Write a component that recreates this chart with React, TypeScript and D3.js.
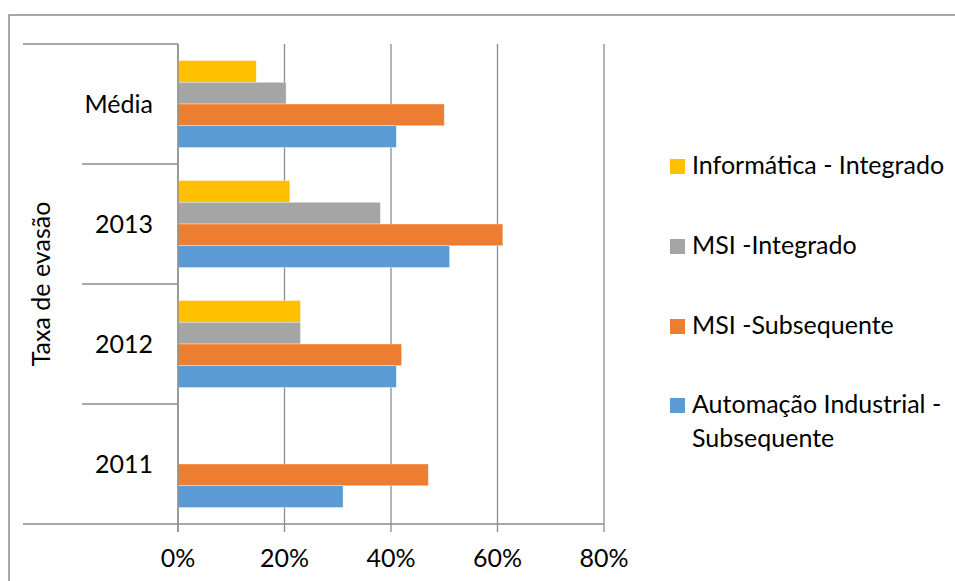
import React from "react";
import * as d3 from "d3";

// Categories listed top to bottom
const categories = ["Média", "2013", "2012", "2011"];

// Series listed in the order bars are stacked inside a group (top to bottom)
const seriesNames = [
  "Informática - Integrado",
  "MSI -Integrado",
  "MSI -Subsequente",
  "Automação Industrial - Subsequente",
];
const seriesColors = ["#FFC000", "#A5A5A5", "#ED7D31", "#5B9BD5"];

// Dropout rates (fractions), per category in the order above
const informaticaIntegrado = [0.147, 0.21, 0.23, 0];
const msiIntegrado = [0.203, 0.38, 0.23, 0];
const msiSubsequente = [0.5, 0.61, 0.42, 0.47];
const automacaoSubsequente = [0.41, 0.51, 0.41, 0.31];

const seriesValues = [
  informaticaIntegrado,
  msiIntegrado,
  msiSubsequente,
  automacaoSubsequente,
];

const xTicks = [0, 0.2, 0.4, 0.6, 0.8];
const axisTitle = "Taxa de evasão";

const W = 955;
const H = 581;
const FONT = "Lato, 'Open Sans', sans-serif";
const FS = 25;
const GRID = "#8c8c8c";

export default function App() {
  const plotLeft = 178;
  const plotRight = 604;
  const plotTop = 44;
  const plotBottom = 524;

  const x = d3.scaleLinear().domain([0, 0.8]).range([plotLeft, plotRight]);
  const y = d3
    .scaleBand<string>()
    .domain(categories)
    .range([plotTop, plotBottom])
    .padding(0);
  const inner = d3
    .scaleBand<string>()
    .domain(seriesNames)
    .range([0, y.bandwidth()])
    .paddingInner(0)
    .paddingOuter(0.76);

  const fmt = d3.format(".0%");

  const boundaries = categories.map((c) => y(c) as number).concat([plotBottom]);

  // Legend layout
  const legendX = 670;
  const legendRows = [
    { lines: ["Informática - Integrado"], y: 174 },
    { lines: ["MSI -Integrado"], y: 254 },
    { lines: ["MSI -Subsequente"], y: 334 },
    { lines: ["Automação Industrial -", "Subsequente"], y: 413 },
  ];

  return (
    <svg
      width={W}
      height={H}
      style={{ position: "absolute", left: 0, top: 0, background: "#fff" }}
      fontFamily={FONT}
    >
      {/* chart frame */}
      <rect x={9} y={15} width={W + 20} height={H + 20} fill="#fff" stroke="#8a8a8a" strokeWidth={1.5} />

      {/* vertical gridlines */}
      {xTicks.map((t) => (
        <line key={"g" + t} x1={x(t)} x2={x(t)} y1={plotTop} y2={plotBottom + 8} stroke={GRID} strokeWidth={1.3} />
      ))}

      {/* bars */}
      {seriesNames.map((s, si) =>
        categories.map((c, ci) => {
          const v = seriesValues[si][ci];
          if (!v) return null;
          const by = (y(c) as number) + (inner(s) as number);
          return (
            <rect
              key={s + c}
              x={x(0)}
              y={by}
              width={x(v) - x(0)}
              height={inner.bandwidth()}
              fill={seriesColors[si]}
              stroke="#fff"
              strokeWidth={0.6}
              strokeOpacity={0.6}
            />
          );
        })
      )}

      {/* category axis */}
      <line x1={plotLeft} x2={plotLeft} y1={plotTop} y2={plotBottom + 8} stroke={GRID} strokeWidth={1.3} />
      {boundaries.map((b, i) => {
        const outer = i === 0 || i === boundaries.length - 1;
        return (
          <line key={"b" + i} x1={outer ? 23 : 82} x2={plotLeft} y1={b} y2={b} stroke={GRID} strokeWidth={1.3} />
        );
      })}
      {/* value axis baseline */}
      <line x1={plotLeft} x2={plotRight} y1={plotBottom} y2={plotBottom} stroke={GRID} strokeWidth={1.3} />

      {/* category labels */}
      {categories.map((c) => (
        <text
          key={"l" + c}
          x={153}
          y={(y(c) as number) + y.bandwidth() / 2}
          dy="0.35em"
          textAnchor="end"
          fontSize={FS}
          fill="#000"
        >
          {c}
        </text>
      ))}

      {/* outer axis title */}
      <text
        transform={`translate(50, ${(plotTop + plotBottom) / 2}) rotate(-90)`}
        textAnchor="middle"
        fontSize={FS}
        fill="#000"
      >
        {axisTitle}
      </text>

      {/* value tick labels */}
      {xTicks.map((t) => (
        <text key={"t" + t} x={x(t)} y={567} textAnchor="middle" fontSize={FS} fill="#000">
          {fmt(t)}
        </text>
      ))}

      {/* legend */}
      {legendRows.map((r, i) => (
        <g key={"lg" + i}>
          <rect x={legendX} y={r.y - 15} width={15} height={15} fill={seriesColors[i]} />
          {r.lines.map((ln, li) => (
            <text key={li} x={692} y={r.y + li * 34} fontSize={FS} fill="#000">
              {ln}
            </text>
          ))}
        </g>
      ))}
    </svg>
  );
}
